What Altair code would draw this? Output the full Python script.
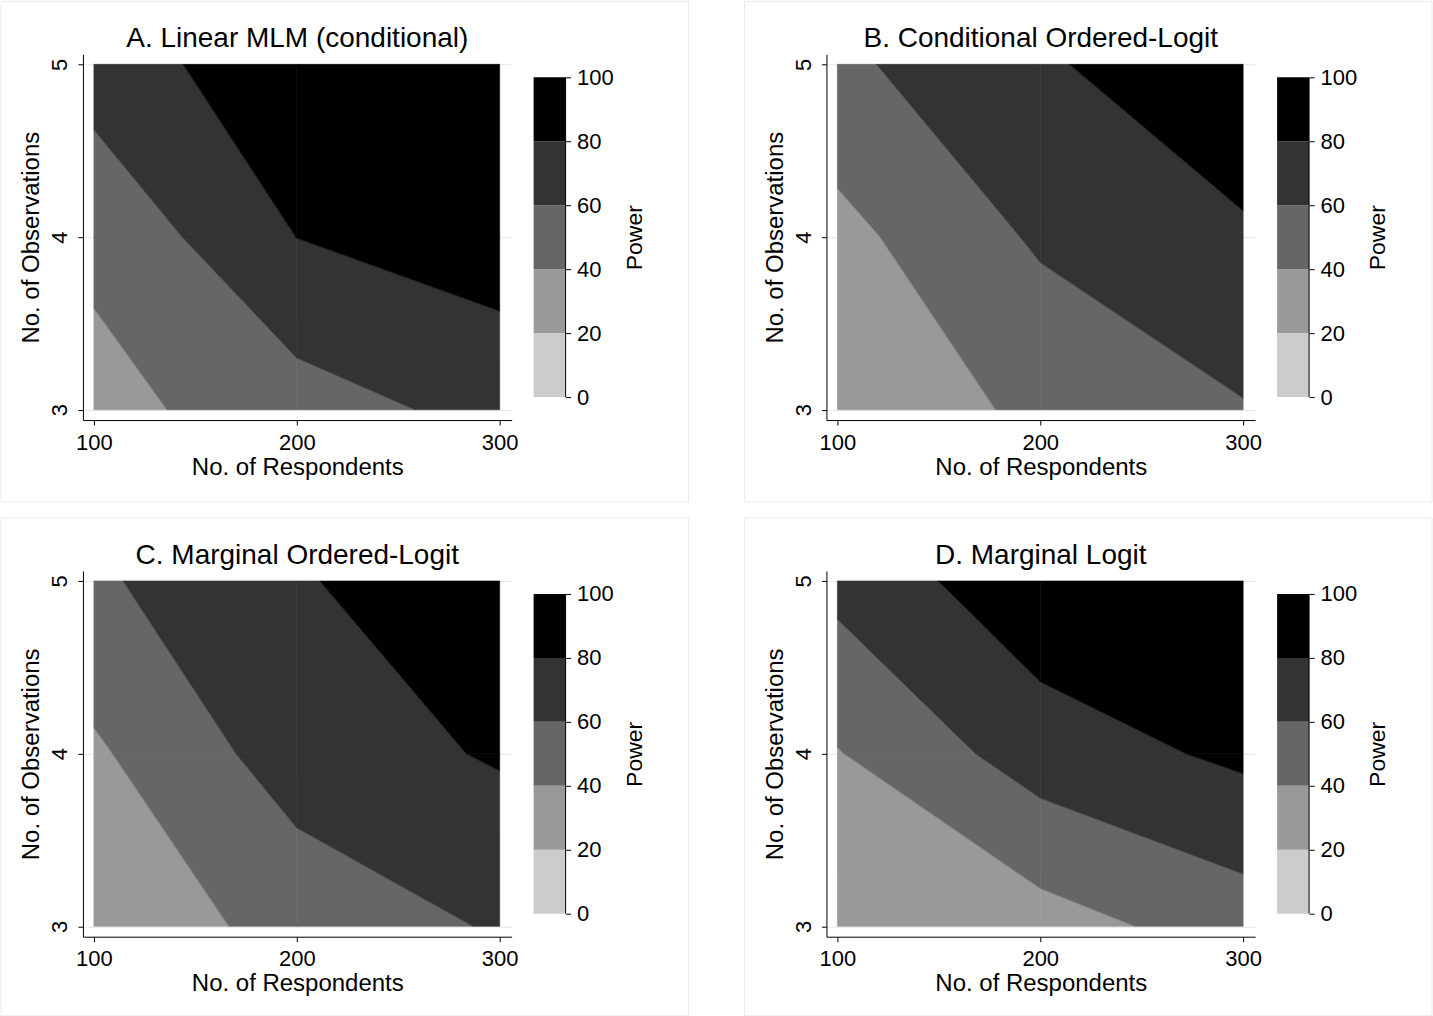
import altair as alt
import pandas as pd

# ---------------- data ----------------
respondents = [100, 200, 300]          # x grid
observations = [3, 4, 5]               # y grid
power_levels = [0, 20, 40, 60, 80, 100]
band_names = ["0-20", "20-40", "40-60", "60-80", "80-100"]
band_colors = ["#cccccc", "#999999", "#666666", "#333333", "#000000"]

panel_titles = [
    "A. Linear MLM (conditional)",
    "B. Conditional Ordered-Logit",
    "C. Marginal Ordered-Logit",
    "D. Marginal Logit",
]

# power at grid points; rows = observations 3, 4, 5 ; columns = respondents 100, 200, 300
power_a = [[33.6, 51.4, 66.2], [44.5, 80.2, 90.4], [69.5, 93.4, 97.0]]
power_b = [[28.0, 43.4, 58.7], [33.9, 62.9, 78.4], [55.6, 78.5, 89.0]]
power_c = [[26.3, 46.9, 62.0], [37.0, 69.9, 82.0], [57.0, 78.0, 95.7]]
power_d = [[25.0, 31.6, 49.6], [39.0, 69.9, 84.0], [66.0, 94.2, 97.0]]
panel_grids = [power_a, power_b, power_c, power_d]


# ---------------- contour bands (marching squares, linear along cell edges) ----------------
def clip(poly, level, above):
    out = []
    n = len(poly)
    for k in range(n):
        p, q = poly[k], poly[(k + 1) % n]
        pin = p[2] >= level if above else p[2] <= level
        qin = q[2] >= level if above else q[2] <= level
        if pin:
            out.append(p)
        if pin != qin:
            t = (level - p[2]) / (q[2] - p[2])
            out.append((p[0] + t * (q[0] - p[0]), p[1] + t * (q[1] - p[1]), level))
    return out


def band_polygons(grid):
    rows = []
    pid = 0
    for j in range(len(observations) - 1):
        for i in range(len(respondents) - 1):
            cell = [
                (respondents[i], observations[j], grid[j][i]),
                (respondents[i + 1], observations[j], grid[j][i + 1]),
                (respondents[i + 1], observations[j + 1], grid[j + 1][i + 1]),
                (respondents[i], observations[j + 1], grid[j + 1][i]),
            ]
            for b in range(len(band_names)):
                poly = clip(clip(cell, power_levels[b], True), power_levels[b + 1], False)
                if len(poly) >= 3:
                    ring = poly + [poly[0]]  # closed ring
                    for k, (x, y, _) in enumerate(ring):
                        rows.append({"pid": pid, "k": k, "respondents": x,
                                     "observations": y, "band": band_names[b]})
                    pid += 1
    return pd.DataFrame(rows)


legend_df = pd.DataFrame({"lo": power_levels[:-1], "hi": power_levels[1:], "band": band_names})
frame_df = pd.DataFrame({"frame": [0]})

FONT = "Liberation Sans"
W, H = 429, 366
band_scale = alt.Scale(domain=band_names, range=band_colors)
legend_y_scale = alt.Scale(domain=[-7.1875, 107.1875], nice=False, zero=False)
x_scale = alt.Scale(domain=[94.6, 305.9], nice=False, zero=False)
y_scale = alt.Scale(domain=[2.94, 5.058], nice=False, zero=False)


def panel(title, grid, frame_bottom):
    df = band_polygons(grid)
    base = alt.Chart(df).encode(
        x=alt.X("respondents:Q", title="No. of Respondents", scale=x_scale,
                axis=alt.Axis(values=respondents, format="d", grid=False,
                              orient="bottom", tickSize=5, labelPadding=7, titlePadding=2,
                              labelFontSize=22, titleFontSize=24, labelOverlap=False)),
        y=alt.Y("observations:Q", title="No. of Observations", scale=y_scale,
                axis=alt.Axis(tickCount=len(observations), labelAngle=270, format="d",
                              orient="left", tickSize=5, labelPadding=6, titlePadding=5,
                              labelFontSize=22, titleFontSize=24, labelOverlap=False,
                              grid=True, gridColor="#e6e6e6")),
        color=alt.Color("band:N", scale=band_scale, legend=None),
        detail="pid:N",
        order=alt.Order("k:Q"),
    )
    fills = base.mark_line(filled=True, interpolate="linear")
    edges = base.mark_line(interpolate="linear", strokeWidth=0.6)
    rects = alt.Chart(legend_df).mark_rect().encode(
        x=alt.value(451), x2=alt.value(483),
        y=alt.Y("lo:Q", scale=legend_y_scale,
                axis=alt.Axis(orient="right", offset=54, values=power_levels, format="d",
                              domain=False, grid=False, tickSize=5, labelPadding=6,
                              labelFontSize=22, title="Power", titleFontSize=23,
                              titleAngle=270, titleBaseline="top", titlePadding=10,
                              labelOverlap=False)),
        y2="hi:Q",
        color=alt.Color("band:N", scale=band_scale, legend=None),
    )
    rule = alt.Chart(legend_df).mark_rule(color="black", strokeWidth=1).encode(
        x=alt.value(483),
        y=alt.Y("lo:Q", scale=legend_y_scale, axis=None),
        y2="hi:Q",
    )
    frame = alt.Chart(frame_df).mark_rect(filled=False, color="#ebebeb", strokeWidth=1).encode(
        x=alt.value(-82), x2=alt.value(606), y=alt.value(-53), y2=alt.value(frame_bottom)
    )
    head = alt.Chart(pd.DataFrame({"title": [title]})).mark_text(
        font=FONT, fontSize=28, align="center", baseline="alphabetic", color="black"
    ).encode(x=alt.value(W / 2), y=alt.value(-7), text="title:N")
    contour = alt.layer(fills, edges)
    return alt.layer(contour, rects, rule, frame, head).resolve_scale(y="independent").properties(
        width=W, height=H
    )


panels = [
    panel(panel_titles[0], panel_grids[0], 448),
    panel(panel_titles[1], panel_grids[1], 448),
    panel(panel_titles[2], panel_grids[2], 445),
    panel(panel_titles[3], panel_grids[3], 445),
]

chart = alt.concat(*panels, columns=2, spacing={"row": 151, "column": 315},
                   bounds="flush").properties(
    padding=0, background="white"
).configure_view(strokeWidth=0).configure_axis(
    labelFont=FONT, titleFont=FONT, labelColor="black", titleColor="black",
    domainColor="black", tickColor="black", titleFontWeight="normal",
    domainWidth=1, tickWidth=1,
)

chart.save("out.html", embed_options={"renderer": "svg", "actions": False})
